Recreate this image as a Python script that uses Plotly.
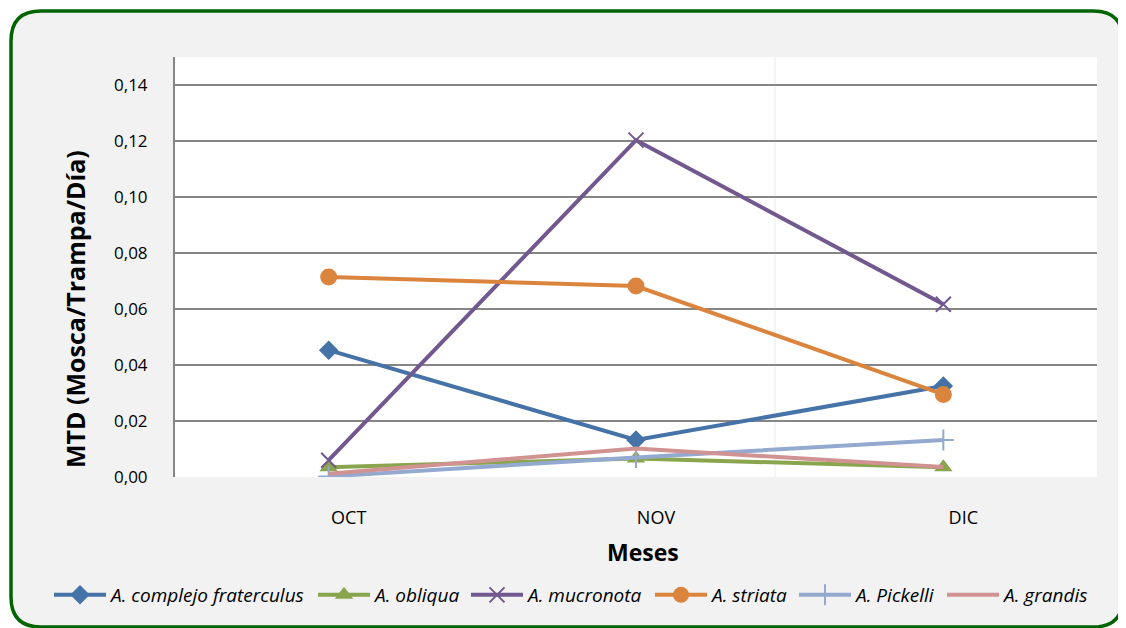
import plotly.graph_objects as go

months = ["OCT", "NOV", "DIC"]
series_names = ["A. complejo fraterculus", "A. obliqua", "A. mucronota",
                "A. striata", "A. Pickelli", "A. grandis"]
fraterculus = [0.0453, 0.0132, 0.0325]
obliqua = [0.0035, 0.0066, 0.0035]
mucronota = [0.0060, 0.1203, 0.0617]
striata = [0.0714, 0.0682, 0.0295]
pickelli = [0.0002, 0.0070, 0.0132]
grandis = [0.0012, 0.0102, 0.0036]
y_ticks = [0.00, 0.02, 0.04, 0.06, 0.08, 0.10, 0.12, 0.14]

values = [fraterculus, obliqua, mucronota, striata, pickelli, grandis]
colors = ["#4572A7", "#89A54E", "#71588F", "#DB843D", "#93A9CF", "#D19392"]
symbols = ["diamond", "triangle-up", "x-thin", "circle", "cross-thin", "circle"]
msizes = [15, 16, 15, 17, 15, 0.1]
legend_left = [54, 318, 471, 655, 799, 947]  # reference pixel x of each legend entry

OFF = 8  # page body margin
W, H = 1126 - OFF, 628 - OFF
L, R, T, B = 175 - OFF, 1097 - OFF, 57 - OFF, 477 - OFF
FONT = "Open Sans"


def px(x):
    return (x - OFF - L) / (R - L)


def py(y):
    return (B - (y - OFF)) / (B - T)


fig = go.Figure()
xi = list(range(len(months)))
legends = {}
for i, (name, vals, c, s, ms) in enumerate(zip(series_names, values, colors, symbols, msizes)):
    thin = s.endswith("thin")
    lg = "legend" if i == 0 else f"legend{i + 1}"
    fig.add_trace(go.Scatter(
        x=xi, y=vals, name=name, mode="lines+markers", legend=lg,
        line=dict(color=c, width=4),
        marker=dict(symbol=s, size=ms, color=c,
                    line=dict(color=c, width=2 if thin else 0)),
    ))
    legends[lg] = dict(orientation="h", x=px(legend_left[i] - 5), xanchor="left",
                       y=py(595), yanchor="middle", bgcolor="rgba(0,0,0,0)",
                       borderwidth=0,
                       font=dict(family=FONT, size=19, style="italic", color="black"),
                       itemwidth=52)

# rounded outer frame (reference pixel coords)
x0, x1, y0, y1, r = 11, 1123, 11, 627, 30
path = (f"M {px(x0+r)} {py(y0)} L {px(x1-r)} {py(y0)} "
        f"Q {px(x1)} {py(y0)} {px(x1)} {py(y0+r)} "
        f"L {px(x1)} {py(y1-r)} Q {px(x1)} {py(y1)} {px(x1-r)} {py(y1)} "
        f"L {px(x0+r)} {py(y1)} Q {px(x0)} {py(y1)} {px(x0)} {py(y1-r)} "
        f"L {px(x0)} {py(y0+r)} Q {px(x0)} {py(y0)} {px(x0+r)} {py(y0)} Z")
fig.add_shape(type="path", path=path, xref="paper", yref="paper",
              fillcolor="#F2F2F2", line=dict(color="#006400", width=3.5),
              layer="below")
fig.add_shape(type="rect", xref="paper", yref="paper", x0=0, x1=1, y0=0, y1=1,
              fillcolor="white", line=dict(width=0), layer="below")
fig.add_shape(type="line", xref="paper", yref="paper", x0=px(775), x1=px(775),
              y0=0, y1=1, line=dict(color="#EBEBEB", width=1), layer="below")

fig.add_annotation(text="<b>MTD (Mosca/Trampa/Día)</b>", textangle=-90,
                   xref="paper", yref="paper", x=px(75), y=py(309),
                   xanchor="center", yanchor="middle",
                   showarrow=False, font=dict(family=FONT, size=25, color="black"))
fig.add_annotation(text="<b>Meses</b>", xref="paper", yref="paper",
                   x=px(643), y=py(552), xanchor="center", yanchor="middle",
                   showarrow=False,
                   font=dict(family=FONT, size=23, color="black"))

fig.update_layout(
    width=W, height=H,
    margin=dict(l=L, r=W - R, t=T, b=H - B, autoexpand=False),
    paper_bgcolor="white", plot_bgcolor="white",
    separators=",.",
    font=dict(family=FONT, color="black"),
    xaxis=dict(tickvals=xi, ticktext=months, range=[-0.5, len(months) - 0.5],
               showgrid=False, zeroline=False, showline=False, ticks="",
               ticklabelstandoff=28, ticklabelshift=20,
               tickfont=dict(size=18, family=FONT)),
    yaxis=dict(range=[0, 0.15], tickvals=y_ticks, tickformat=".2f",
               showgrid=True, gridcolor="#868686", gridwidth=1.5,
               zeroline=False, showline=True, linecolor="#868686", linewidth=2,
               ticks="", ticklabelstandoff=22,
               tickfont=dict(size=17, family=FONT)),
    showlegend=True,
    **legends,
)

fig.write_html("out.html")
